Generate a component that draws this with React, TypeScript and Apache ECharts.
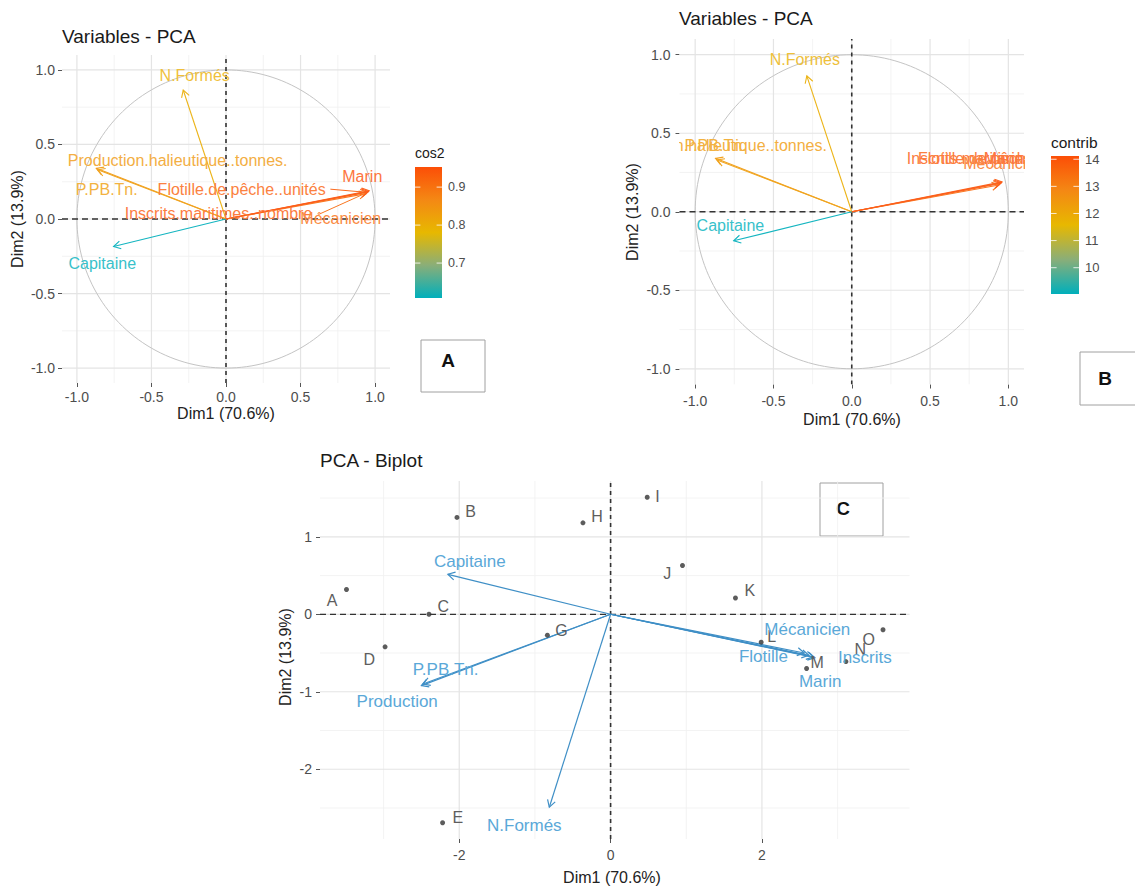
import React, { useEffect, useRef } from "react";
import * as echarts from "echarts";

const FONT = "'Liberation Sans', Arial, Helvetica, sans-serif";

// ---------------- data ----------------
const variables = [
  "N.Formés",
  "Production.halieutique..tonnes.",
  "P.PB.Tn.",
  "Flotille.de.pêche..unités",
  "Inscrits.maritimes..nombre",
  "Mécanicien",
  "Marin",
  "Capitaine",
];
const dim1 = [-0.287, -0.87, -0.86, 0.95, 0.96, 0.94, 0.955, -0.754];
const dim2 = [0.865, 0.34, 0.33, 0.18, 0.19, 0.17, 0.185, -0.185];
const cos2 = [0.8, 0.84, 0.83, 0.93, 0.94, 0.91, 0.953, 0.608];
const contrib = [11.85, 12.4, 12.3, 13.8, 13.9, 13.5, 14.12, 9.03];

// label positions (data units) in panel A and B
const labelAX = [-0.21, -0.324, -0.8, 0.105, -0.05, 0.77, 0.914, -0.83];
const labelAY = [0.96, 0.394, 0.197, 0.2, 0.04, 0.005, 0.287, -0.3];
const labelBX = [-0.3, -0.86, -0.87, 0.96, 0.95, 0.97, 0.97, -0.775];
const labelBY = [0.97, 0.42, 0.42, 0.34, 0.34, 0.31, 0.34, -0.085];

// repel segments in panel A: [fromX, fromY, toX, toY, variable index]
const repelA = [
  [0.7, 0.2, 0.93, 0.18, 3],
  [0.62, 0.03, 0.93, 0.17, 5],
];

// biplot variables
const biVars = ["N.Formés", "Production", "P.PB.Tn.", "Flotille", "Inscrits", "Mécanicien", "Marin", "Capitaine"];
const biX = [-0.81, -2.5, -2.48, 2.62, 2.7, 2.56, 2.68, -2.15];
const biY = [-2.49, -0.92, -0.9, -0.53, -0.56, -0.5, -0.55, 0.516];
const biLabelX = [-1.14, -2.82, -2.18, 2.02, 3.36, 2.6, 2.77, -1.86];
const biLabelY = [-2.72, -1.13, -0.71, -0.55, -0.56, -0.2, -0.87, 0.675];

// individuals
const individuals = ["A", "B", "C", "D", "E", "G", "H", "I", "J", "K", "L", "M", "N", "O"];
const indX = [-3.49, -2.03, -2.4, -2.98, -2.22, -0.835, -0.365, 0.484, 0.95, 1.65, 1.99, 2.59, 3.11, 3.6];
const indY = [0.32, 1.25, 0.0, -0.42, -2.69, -0.27, 1.18, 1.51, 0.63, 0.21, -0.36, -0.7, -0.61, -0.2];
const indLabelX = [-3.68, -1.85, -2.21, -3.19, -2.02, -0.65, -0.18, 0.62, 0.75, 1.84, 2.13, 2.73, 3.3, 3.41];
const indLabelY = [0.18, 1.33, 0.1, -0.58, -2.62, -0.21, 1.26, 1.52, 0.52, 0.31, -0.29, -0.62, -0.46, -0.33];

// axes / ticks
const varTicks = [-1, -0.5, 0, 0.5, 1];
const varMinor = [-0.75, -0.25, 0.25, 0.75];
const varRange = [-1.1, 1.1];
const biXTicks = [-2, 0, 2];
const biXMinor = [-3, -1, 1, 3];
const biYTicks = [-2, -1, 0, 1];
const biYMinor = [-2.5, -1.5, -0.5, 0.5, 1.5];
const biXRange = [-3.84, 3.95];
const biYRange = [-2.9, 1.72];

// legends
const cos2Ticks = [0.7, 0.8, 0.9];
const cos2Range = [0.608, 0.953];
const contribTicks = [10, 11, 12, 13, 14];
const contribRange = [9.03, 14.12];

// ---------------- helpers ----------------
const gradStops: [number, number[]][] = [
  [0, [0, 175, 187]],
  [0.25, [138, 174, 120]],
  [0.5, [231, 184, 0]],
  [0.75, [244, 136, 20]],
  [1, [252, 78, 7]],
];
function gradRGB(t: number): number[] {
  t = Math.max(0, Math.min(1, t));
  for (let i = 1; i < gradStops.length; i++) {
    const [o1, c1] = gradStops[i - 1];
    const [o2, c2] = gradStops[i];
    if (t <= o2) {
      const f = (t - o1) / (o2 - o1);
      return c1.map((v, k) => v + (c2[k] - v) * f);
    }
  }
  return [252, 78, 7];
}
function scaleColor(v: number, r: number[], whiteMix: number): string {
  const c = gradRGB((v - r[0]) / (r[1] - r[0])).map((x) => Math.round(x + (255 - x) * whiteMix));
  return `rgb(${c[0]},${c[1]},${c[2]})`;
}

function gridSeries(idx: number, xMaj: number[], xMin: number[], yMaj: number[], yMin: number[], xr: number[], yr: number[]) {
  const data = [
    ...xMin.map((v) => [v, 0, 0]),
    ...yMin.map((v) => [v, 1, 0]),
    ...xMaj.map((v) => [v, 0, 1]),
    ...yMaj.map((v) => [v, 1, 1]),
  ];
  return {
    type: "custom",
    xAxisIndex: idx,
    yAxisIndex: idx,
    z: 1,
    silent: true,
    clip: true,
    data,
    renderItem: (_p: any, api: any) => {
      const v = api.value(0);
      const o = api.value(1);
      const m = api.value(2);
      const a = o === 0 ? api.coord([v, yr[0]]) : api.coord([xr[0], v]);
      const b = o === 0 ? api.coord([v, yr[1]]) : api.coord([xr[1], v]);
      return {
        type: "line",
        shape: { x1: a[0], y1: a[1], x2: b[0], y2: b[1] },
        style: { stroke: m ? "#e4e4e4" : "#f0f0f0", lineWidth: m ? 1.2 : 0.8 },
      };
    },
  };
}

function circleSeries(idx: number) {
  return {
    type: "custom",
    xAxisIndex: idx,
    yAxisIndex: idx,
    z: 2,
    silent: true,
    data: [[0, 0]],
    renderItem: (_p: any, api: any) => {
      const pts: number[][] = [];
      for (let k = 0; k <= 180; k++) {
        const a = (k / 180) * Math.PI * 2;
        pts.push(api.coord([Math.cos(a), Math.sin(a)]));
      }
      return { type: "polyline", shape: { points: pts }, style: { stroke: "#c4c4c4", lineWidth: 1, fill: "none" } };
    },
  };
}

function zeroSeries(idx: number, xr: number[], yr: number[]) {
  return {
    type: "custom",
    xAxisIndex: idx,
    yAxisIndex: idx,
    z: 3,
    silent: true,
    clip: true,
    data: [[0, 0]],
    renderItem: (_p: any, api: any) => {
      const h1 = api.coord([xr[0], 0]);
      const h2 = api.coord([xr[1], 0]);
      const v1 = api.coord([0, yr[0]]);
      const v2 = api.coord([0, yr[1]]);
      return {
        type: "group",
        children: [
          { type: "line", shape: { x1: h1[0], y1: h1[1], x2: h2[0], y2: h2[1] }, style: { stroke: "#333", lineWidth: 1.3, lineDash: [6, 4] } },
          { type: "line", shape: { x1: v1[0], y1: v1[1], x2: v2[0], y2: v2[1] }, style: { stroke: "#333", lineWidth: 1.6, lineDash: [4, 4] } },
        ],
      };
    },
  };
}

function arrowSeries(idx: number, xs: number[], ys: number[], colors: string[], width: number) {
  return {
    type: "custom",
    xAxisIndex: idx,
    yAxisIndex: idx,
    z: 4,
    silent: true,
    clip: true,
    data: xs.map((x, i) => [x, ys[i]]),
    renderItem: (p: any, api: any) => {
      const o = api.coord([0, 0]);
      const t = api.coord([api.value(0), api.value(1)]);
      const ang = Math.atan2(t[1] - o[1], t[0] - o[0]);
      const L = 8;
      const h = Math.PI / 6;
      const p1 = [t[0] - L * Math.cos(ang - h), t[1] - L * Math.sin(ang - h)];
      const p2 = [t[0] - L * Math.cos(ang + h), t[1] - L * Math.sin(ang + h)];
      const c = colors[p.dataIndex];
      return {
        type: "group",
        children: [
          { type: "line", shape: { x1: o[0], y1: o[1], x2: t[0], y2: t[1] }, style: { stroke: c, lineWidth: width } },
          { type: "polyline", shape: { points: [p1, t, p2] }, style: { stroke: c, lineWidth: width, fill: "none" } },
        ],
      };
    },
  };
}

function labelSeries(idx: number, xs: number[], ys: number[], texts: string[], colors: string[], size: number) {
  return {
    type: "custom",
    xAxisIndex: idx,
    yAxisIndex: idx,
    z: 6,
    silent: true,
    clip: true,
    data: xs.map((x, i) => [x, ys[i]]),
    renderItem: (p: any, api: any) => {
      const pt = api.coord([api.value(0), api.value(1)]);
      return {
        type: "text",
        x: pt[0],
        y: pt[1],
        style: {
          text: texts[p.dataIndex],
          fill: colors[p.dataIndex],
          fontSize: size,
          fontFamily: FONT,
          align: "center",
          verticalAlign: "middle",
          textAlign: "center",
          textVerticalAlign: "middle",
        },
      };
    },
  };
}

function segSeries(idx: number, segs: number[][], colors: string[]) {
  return {
    type: "custom",
    xAxisIndex: idx,
    yAxisIndex: idx,
    z: 5,
    silent: true,
    clip: true,
    data: segs.map((s) => [s[0], s[1], s[2], s[3]]),
    renderItem: (p: any, api: any) => {
      const a = api.coord([api.value(0), api.value(1)]);
      const b = api.coord([api.value(2), api.value(3)]);
      return {
        type: "line",
        shape: { x1: a[0], y1: a[1], x2: b[0], y2: b[1] },
        style: { stroke: colors[segs[p.dataIndex][4]], lineWidth: 1 },
      };
    },
  };
}

function axis(idx: number, min: number, max: number, ticks: number[], fmt: (v: number) => string, margin: number) {
  return {
    type: "value",
    gridIndex: idx,
    min,
    max,
    axisLine: { show: false, onZero: false },
    splitLine: { show: false },
    axisTick: { show: true, customValues: ticks, length: 4, lineStyle: { color: "#555", width: 1 } },
    axisLabel: { customValues: ticks, formatter: fmt, color: "#4d4d4d", fontSize: 14, fontFamily: FONT, margin },
  };
}

function colorbar(x: number, y: number, w: number, h: number, range: number[], ticks: number[], title: string, titleSize: number, labelSize: number, fmt: (v: number) => string) {
  const els: any[] = [];
  const stops = gradStops.map(([o, c]) => ({ offset: o, color: `rgb(${c[0]},${c[1]},${c[2]})` }));
  els.push({
    type: "rect",
    shape: { x, y, width: w, height: h },
    style: { fill: new echarts.graphic.LinearGradient(0, 1, 0, 0, stops) },
  });
  ticks.forEach((t) => {
    const py = y + h * (1 - (t - range[0]) / (range[1] - range[0]));
    els.push({ type: "line", shape: { x1: x, y1: py, x2: x + w / 5, y2: py }, style: { stroke: "rgba(255,255,255,0.8)", lineWidth: 1 } });
    els.push({ type: "line", shape: { x1: x + w - w / 5, y1: py, x2: x + w, y2: py }, style: { stroke: "rgba(255,255,255,0.8)", lineWidth: 1 } });
    els.push({
      type: "text",
      x: x + w + 6,
      y: py,
      style: { text: fmt(t), fill: "#4d4d4d", fontSize: labelSize, fontFamily: FONT, align: "left", verticalAlign: "middle", textAlign: "left", textVerticalAlign: "middle" },
    });
  });
  els.push({
    type: "text",
    x,
    y: y - 14,
    style: { text: title, fill: "#1a1a1a", fontSize: titleSize, fontFamily: FONT, align: "left", verticalAlign: "middle", textAlign: "left", textVerticalAlign: "middle" },
  });
  return els;
}

function txt(text: string, x: number, y: number, size: number, opts: any = {}) {
  return {
    type: "text",
    x,
    y,
    rotation: opts.rotation || 0,
    style: {
      text,
      fill: opts.color || "#1a1a1a",
      fontSize: size,
      fontFamily: opts.family || FONT,
      fontWeight: opts.weight || "normal",
      align: opts.align || "center",
      verticalAlign: "middle",
      textAlign: opts.align || "center",
      textVerticalAlign: "middle",
    },
  };
}

function box(x: number, y: number, w: number, h: number, letter: string, tx: number, ty: number) {
  return [
    { type: "rect", shape: { x, y, width: w, height: h }, style: { fill: "#fff", stroke: "#a0a0a0", lineWidth: 1 } },
    txt(letter, tx, ty, 19, { weight: "bold", color: "#111" }),
  ];
}

function buildOption() {
  const fmt1 = (v: number) => v.toFixed(1);
  const fmt0 = (v: number) => String(Math.round(v));
  const arrA = cos2.map((v) => scaleColor(v, cos2Range, 0.08));
  const labA = cos2.map((v) => scaleColor(v, cos2Range, 0.22));
  const arrB = contrib.map((v) => scaleColor(v, contribRange, 0.08));
  const labB = contrib.map((v) => scaleColor(v, contribRange, 0.22));
  const arrowBlue = biVars.map(() => "#3f8fc6");
  const labelBlue = biVars.map(() => "#5aa8d8");
  const indLabelCol = individuals.map(() => "#5e5e5e");

  const graphic: any[] = [
    txt("Variables - PCA", 62, 36, 19, { align: "left" }),
    txt("Variables - PCA", 679, 18, 19, { align: "left" }),
    txt("PCA - Biplot", 320, 460, 19, { align: "left" }),
    txt("Dim1 (70.6%)", 226, 413, 16, { color: "#222" }),
    txt("Dim1 (70.6%)", 852, 419, 16, { color: "#222" }),
    txt("Dim1 (70.6%)", 612, 877, 16, { color: "#222" }),
    txt("Dim2 (13.9%)", 17, 219, 16, { color: "#222", rotation: Math.PI / 2 }),
    txt("Dim2 (13.9%)", 632, 212, 16, { color: "#222", rotation: Math.PI / 2 }),
    txt("Dim2 (13.9%)", 285, 657, 16, { color: "#222", rotation: Math.PI / 2 }),
    ...colorbar(415, 167, 27, 131, cos2Range, cos2Ticks, "cos2", 14, 12.5, fmt1),
    ...colorbar(1051, 156, 28, 138, contribRange, contribTicks, "contrib", 15.5, 13, fmt0),
    ...box(421, 340, 64, 52, "A", 448, 360),
    ...box(1080, 352, 70, 53, "B", 1105, 378),
    ...box(820, 483, 63, 53, "C", 843, 508),
  ];

  return {
    animation: false,
    backgroundColor: "#ffffff",
    textStyle: { fontFamily: FONT },
    grid: [
      { left: 62, top: 55, width: 328, height: 328 },
      { left: 679.5, top: 39, width: 344.5, height: 345.5 },
      { left: 320, top: 481, width: 589.5, height: 358 },
    ],
    xAxis: [
      axis(0, varRange[0], varRange[1], varTicks, fmt1, 7),
      axis(1, varRange[0], varRange[1], varTicks, fmt1, 9),
      axis(2, biXRange[0], biXRange[1], biXTicks, fmt0, 9),
    ],
    yAxis: [
      axis(0, varRange[0], varRange[1], varTicks, fmt1, 7),
      axis(1, varRange[0], varRange[1], varTicks, fmt1, 9),
      axis(2, biYRange[0], biYRange[1], biYTicks, fmt0, 8),
    ],
    graphic,
    series: [
      // panel A
      gridSeries(0, varTicks, varMinor, varTicks, varMinor, varRange, varRange),
      circleSeries(0),
      zeroSeries(0, varRange, varRange),
      arrowSeries(0, dim1, dim2, arrA, 1.1),
      segSeries(0, repelA, arrA),
      labelSeries(0, labelAX, labelAY, variables, labA, 16),
      // panel B
      gridSeries(1, varTicks, varMinor, varTicks, varMinor, varRange, varRange),
      circleSeries(1),
      zeroSeries(1, varRange, varRange),
      arrowSeries(1, dim1, dim2, arrB, 1.1),
      labelSeries(1, labelBX, labelBY, variables, labB, 16),
      // panel C
      gridSeries(2, biXTicks, biXMinor, biYTicks, biYMinor, biXRange, biYRange),
      zeroSeries(2, biXRange, biYRange),
      arrowSeries(2, biX, biY, arrowBlue, 1.2),
      {
        type: "scatter",
        xAxisIndex: 2,
        yAxisIndex: 2,
        z: 5,
        silent: true,
        symbolSize: 5,
        itemStyle: { color: "#333" },
        data: indX.map((x, i) => [x, indY[i]]),
      },
      labelSeries(2, indLabelX, indLabelY, individuals, indLabelCol, 16),
      labelSeries(2, biLabelX, biLabelY, biVars, labelBlue, 17),
    ],
  };
}

export default function App() {
  const ref = useRef<HTMLDivElement>(null);
  useEffect(() => {
    document.body.style.margin = "0";
    const chart = echarts.init(ref.current as HTMLDivElement, null, { renderer: "svg" });
    chart.setOption(buildOption() as any);
    return () => chart.dispose();
  }, []);
  return <div ref={ref} style={{ width: 1135, height: 889 }} />;
}
